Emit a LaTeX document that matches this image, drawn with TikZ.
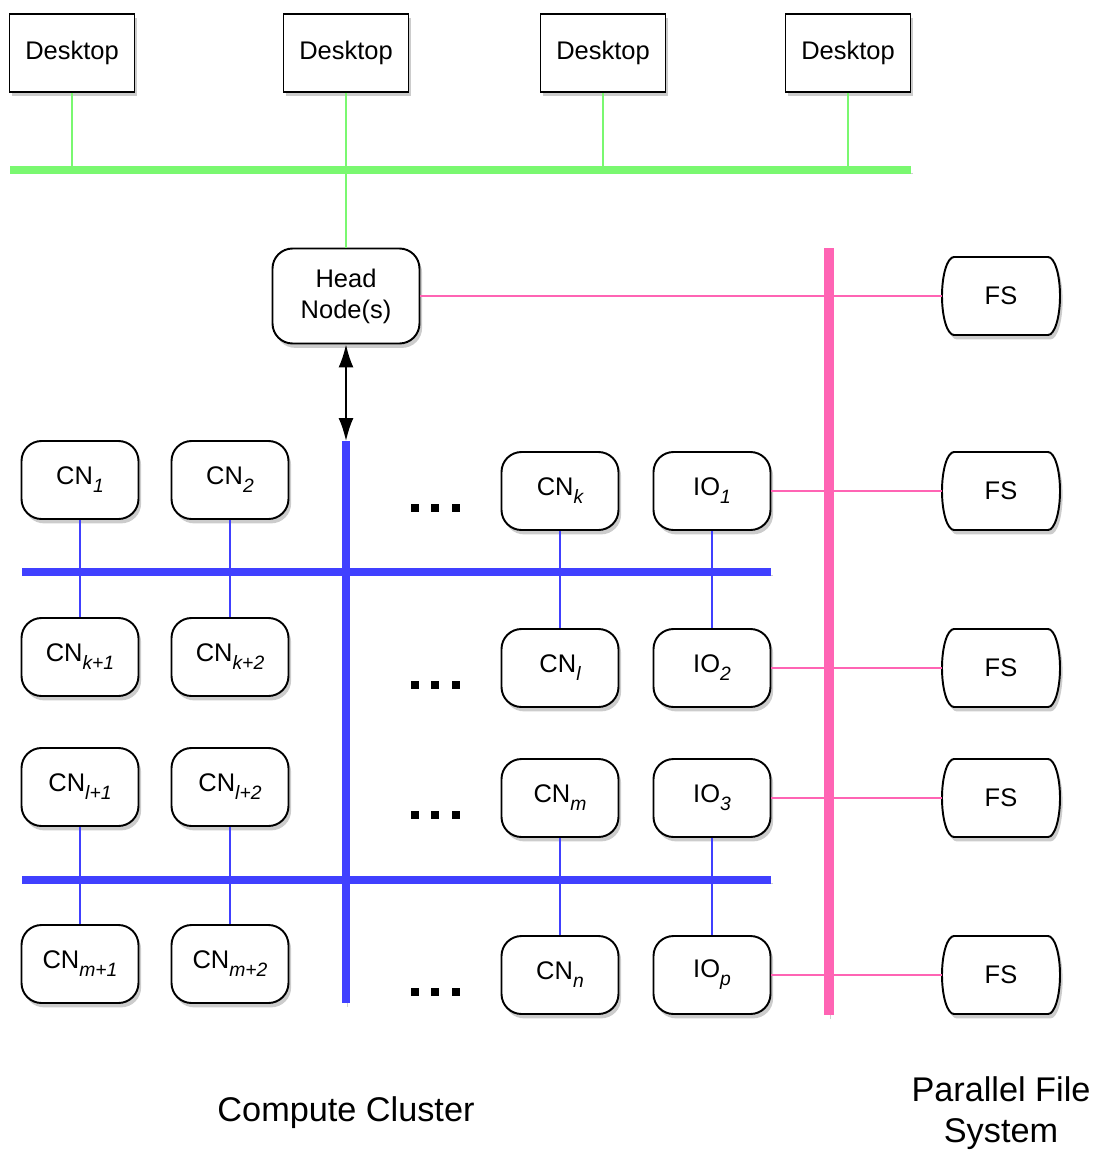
\documentclass[tikz,border=0pt]{standalone}
\usepackage{fontspec}
\setmainfont{Liberation Sans}
\usetikzlibrary{calc}
\usetikzlibrary{arrows.meta}
\usetikzlibrary{shadows}
\usepackage{xcolor}

\definecolor{lan}{RGB}{122,248,112}
\definecolor{fabric}{RGB}{64,64,255}
\definecolor{storage}{RGB}{255,100,180}

\newcommand{\subidx}[1]{\raisebox{-4.5pt}{\fontsize{11}{13}\selectfont\itshape #1}}

\begin{document}
\begin{tikzpicture}[x=0.02cm, y=-0.02cm,
  shade/.style={drop shadow={shadow xshift=1.5pt, shadow yshift=-2.5pt, opacity=.4}},
  box/.style={draw, line width=1.1pt, fill=white, align=center,
    font=\fontsize{14.5}{17.6}\selectfont, shade},
  desk/.style={box, minimum width=2.5cm, minimum height=1.56cm},
  cnbox/.style={box, rounded corners=0.4cm, minimum width=2.34cm, minimum height=1.56cm},
  fsbox/.style={font=\fontsize{14.5}{17.6}\selectfont, minimum width=2.36cm, minimum height=1.56cm},
  fsline/.style={line width=1.1pt, fill=white, shade},
  bus/.style={line width=5pt, preaction={draw=black, opacity=.18,
    transform canvas={xshift=1pt, yshift=-2pt}}},
  wire/.style={line width=0.9pt}]
\useasboundingbox (0,0) rectangle (1096,1150);

% buses
\coordinate (g0) at (10,170);
\coordinate (g1) at (911,170);
\coordinate (p0) at (829,248);
\coordinate (p1) at (829,1015);
\coordinate (b0) at (346,441);
\coordinate (b1) at (346,1003);
\coordinate (h0) at (22,572);
\coordinate (h1) at (771,572);
\coordinate (h2) at (22,880);
\coordinate (h3) at (771,880);
\draw[bus, lan] (g0)--(g1);
\draw[bus, storage, line width=5.5pt] (p0)--(p1);
\draw[bus, fabric] (b0)--(b1);
\draw[bus, fabric] (h0)--(h1);
\draw[bus, fabric] (h2)--(h3);

% desktops and head node
\foreach \i/\x in {1/72,2/346,3/603,4/848}
  \node[desk] (desk\i) at (\x,53) {Desktop};
\node[cnbox, minimum width=2.94cm, minimum height=1.9cm] (head) at (346,296) {Head\\Node(s)};

% compute and io nodes
\foreach \n/\x/\y/\t in {cn1/80/480/CN\subidx{1}, cn2/230/480/CN\subidx{2},
    cnk/560/491/CN\subidx{k}, io1/712/491/IO\subidx{1},
    cn5/80/657/CN\subidx{k+1}, cn6/230/657/CN\subidx{k+2},
    cnl/560/668/CN\subidx{l}, io2/712/668/IO\subidx{2},
    cn9/80/787/CN\subidx{l+1}, cn10/230/787/CN\subidx{l+2},
    cnm/560/798/CN\subidx{m}, io3/712/798/IO\subidx{3},
    cn13/80/964/CN\subidx{m+1}, cn14/230/964/CN\subidx{m+2},
    cnn/560/975/CN\subidx{n}, iop/712/975/IO\subidx{p}}
  \node[cnbox] (\n) at (\x,\y) {\t};

% file servers
\foreach \i/\y in {1/296,2/491,3/668,4/798,5/975}{
  \draw[fsline] (1001-47,\y-39) -- ++(94,0)
    arc[start angle=-90, end angle=90, x radius=12, y radius=39] -- ++(-94,0)
    arc[start angle=90, end angle=270, x radius=12, y radius=39] -- cycle;
  \node[fsbox] (fs\i) at (1001,\y) {FS};
}

% wires
\foreach \i in {1,...,4}
  \draw[wire, lan] (desk\i) -- (desk\i |- g0);
\draw[wire, lan] (head) -- (head |- g0);
\foreach \a/\b in {cn1/cn5, cn2/cn6, cnk/cnl, io1/io2, cn9/cn13, cn10/cn14, cnm/cnn, io3/iop}
  \draw[wire, fabric] (\a) -- (\b);
\draw[wire, storage] (head) -- (fs1);
\foreach \a/\b in {io1/fs2, io2/fs3, io3/fs4, iop/fs5}
  \draw[wire, storage] (\a) -- (\b);
\draw[line width=1pt, {Latex[length=0.46cm,width=0.3cm]}-{Latex[length=0.46cm,width=0.3cm]}] (head) -- (b0);

% dots
\foreach \y in {508,685,815,992}
  \foreach \x in {415,435,456}
    \fill (\x-4,\y-4) rectangle ++(8,8);

\node [font=\fontsize{19.5}{23.4}\selectfont] at (346,1113) {Compute Cluster};
\node [font=\fontsize{19.5}{23.2}\selectfont, align=center] at (1001,1113) {Parallel File\\System};
\end{tikzpicture}
\end{document}
